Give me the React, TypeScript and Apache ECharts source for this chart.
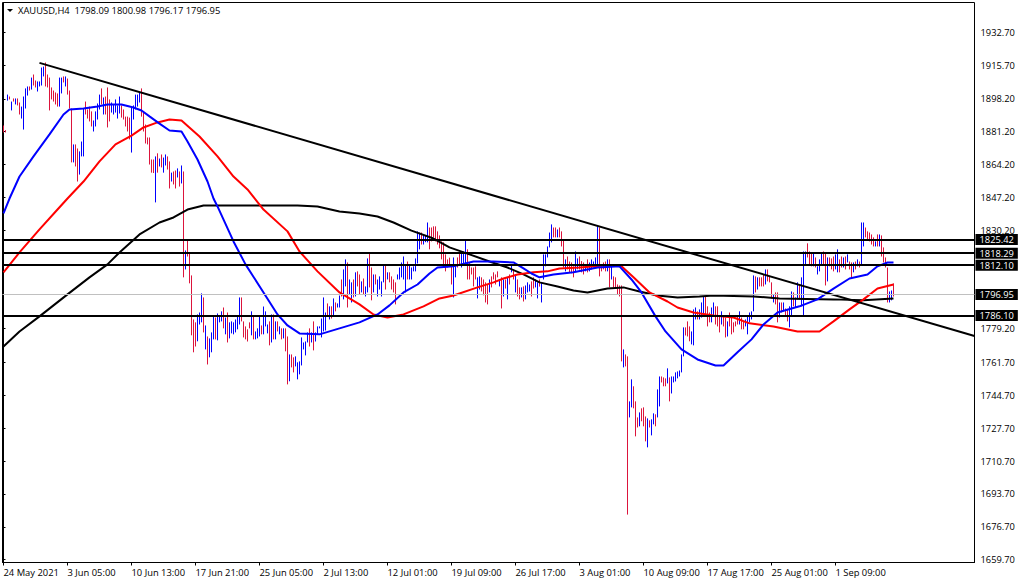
import React, { useEffect, useRef } from 'react';
import * as echarts from 'echarts';

const FONT = '"Open Sans", sans-serif';

const xLabels = ['24 May 2021', '3 Jun 05:00', '10 Jun 13:00', '17 Jun 21:00', '25 Jun 05:00', '2 Jul 13:00', '12 Jul 01:00',
  '19 Jul 09:00', '26 Jul 17:00', '3 Aug 01:00', '10 Aug 09:00', '17 Aug 17:00', '25 Aug 01:00', '1 Sep 09:00'];
const xTicks = [0, 32, 64, 96, 128, 160, 192, 224, 256, 288, 320, 352, 384, 416];
const yTicks = [1932.7, 1915.7, 1898.2, 1881.2, 1864.2, 1847.2, 1830.2, 1779.2, 1761.7, 1744.7, 1727.7, 1710.7, 1693.7, 1676.7, 1659.7];

// high and low of every H4 bar
const highs = [
  1884.4, 1882, 1900.4, 1899.4, 1896.8, 1898.4, 1898.4, 1898.4, 1896.3, 1894.2,
  1899.4, 1903.6, 1904.6, 1904.6, 1909.2, 1910.8, 1907.7, 1907.2, 1907.2, 1914.4,
  1914.9, 1917, 1910.8, 1909.2, 1904.1, 1902.5, 1901.5, 1901, 1909.2, 1909.2,
  1909.8, 1909.8, 1908.7, 1902.5, 1893.2, 1874.6, 1874.6, 1872.5, 1871, 1876.1,
  1893.2, 1896.8, 1892.7, 1894.2, 1891.7, 1887, 1891.7, 1895.8, 1900.4, 1903.6,
  1898.9, 1899.4, 1904.1, 1897.9, 1896.3, 1895.3, 1897.9, 1894.8, 1899.4, 1894.8,
  1892.7, 1889, 1889, 1888.5, 1894.2, 1894.8, 1900.4, 1900.4, 1901.5, 1903.6,
  1891.7, 1884.9, 1878.2, 1878.2, 1866.8, 1866.8, 1868.4, 1870, 1867.3, 1869.4,
  1867.8, 1869.4, 1868.4, 1865.8, 1860, 1860.6, 1861.1, 1862.2, 1860.6, 1863.7,
  1860.6, 1819.7, 1825.4, 1818.7, 1806.8, 1784, 1782.5, 1786.6, 1787.6, 1797.5,
  1795.4, 1780.9, 1775.2, 1774.2, 1777.3, 1786.1, 1785, 1787.1, 1785.6, 1788.2,
  1790.2, 1785, 1787.6, 1782.5, 1783, 1782.5, 1784, 1785.6, 1795.4, 1795.4,
  1783, 1780.4, 1778.9, 1782.5, 1788.2, 1785.6, 1777.8, 1779.4, 1785.6, 1780.9,
  1790.7, 1788.2, 1781.4, 1783, 1786.6, 1786.6, 1783, 1783, 1780.4, 1779.4,
  1779.4, 1779.4, 1775.2, 1765.9, 1765.9, 1764.4, 1764.9, 1761.8, 1762.3, 1774.7,
  1772.1, 1772.6, 1777.3, 1779.4, 1777.3, 1783, 1777.3, 1780.4, 1780.4, 1784.5,
  1795.4, 1787.6, 1792.3, 1790.8, 1790.8, 1794.9, 1792.8, 1792.3, 1796.4, 1804.7,
  1809.9, 1815.1, 1813.5, 1804.7, 1803.2, 1804.7, 1808.4, 1808.9, 1807.3, 1803.7,
  1805.2, 1801.1, 1815.6, 1818.7, 1810.9, 1807.3, 1807.3, 1804.7, 1806.3, 1803.7,
  1812.5, 1812.5, 1808.4, 1808.4, 1806.3, 1804.7, 1803.2, 1807.3, 1810.9, 1813.5,
  1816.6, 1812.5, 1814, 1812.5, 1810.9, 1811.5, 1815.6, 1829.6, 1829, 1829,
  1828, 1827.5, 1834.2, 1831.6, 1831.6, 1832.2, 1832.2, 1829.6, 1827.5, 1824.4,
  1823.9, 1817.7, 1815.1, 1816, 1812.5, 1816.1, 1812.5, 1816.1, 1818.7, 1819.2,
  1819.2, 1825.4, 1820.3, 1813.5, 1810.9, 1810.9, 1811.5, 1805.8, 1806.3, 1805.8,
  1804.7, 1803.2, 1802.1, 1804.7, 1806.3, 1808.4, 1807.3, 1808.9, 1804.7, 1805.8,
  1804.7, 1804.7, 1805.8, 1807.3, 1812.5, 1809.9, 1807.3, 1804.7, 1800.6, 1800.6,
  1801.1, 1801.6, 1803.2, 1802.1, 1803.7, 1805.8, 1804.7, 1803.2, 1804.7, 1803.2,
  1817.7, 1817.7, 1821.8, 1829, 1833.2, 1831.6, 1831.6, 1830.6, 1831.6, 1829.6,
  1825.4, 1815.1, 1816.6, 1814, 1813.5, 1811.5, 1819.2, 1815.6, 1816.6, 1814.2,
  1813.5, 1812.5, 1815.1, 1813.5, 1815.1, 1814, 1816.1, 1832.2, 1831.6, 1812.5,
  1813.5, 1814, 1815.1, 1815.1, 1811.5, 1806.3, 1805.8, 1802.1, 1801.6, 1801.6,
  1768.5, 1765.9, 1764.9, 1741.6, 1753, 1749.4, 1741.6, 1733.3, 1735.9, 1738,
  1738.5, 1733.8, 1732.8, 1731.8, 1732.3, 1735.4, 1734.9, 1747.8, 1754.5, 1754.5,
  1754, 1753.5, 1758.7, 1754, 1754.5, 1754.5, 1756.6, 1757.1, 1757.6, 1765.9,
  1779.9, 1779.9, 1783, 1780.4, 1777.8, 1789.2, 1790.2, 1788.2, 1789.2, 1792.8,
  1795.9, 1795.9, 1790.8, 1787.6, 1790.2, 1792.8, 1790.8, 1790.8, 1785.6, 1788.2,
  1785.6, 1785, 1783, 1787.6, 1785, 1782.5, 1783, 1785.6, 1788.2, 1785,
  1783, 1784, 1785.6, 1787.6, 1788.2, 1806.8, 1806.3, 1805.8, 1805.8, 1805.8,
  1807.3, 1809.9, 1809.9, 1806.3, 1803.2, 1797, 1798, 1798, 1792.8, 1792.8,
  1792.8, 1789.7, 1789.2, 1790.8, 1798.5, 1798, 1795.4, 1803.2, 1801.6, 1805.8,
  1819.2, 1819.2, 1823.4, 1819.2, 1818.7, 1818.7, 1816.1, 1811.5, 1815.1, 1818.7,
  1819.2, 1818.7, 1816.1, 1816.1, 1815.6, 1816.6, 1817.7, 1820.3, 1815.1, 1816.6,
  1816.1, 1816.6, 1817.7, 1814, 1813.5, 1813.5, 1814, 1815.1, 1814, 1834.2,
  1834.2, 1831.6, 1829.6, 1829, 1828, 1826.5, 1824.4, 1828, 1828, 1827.5,
  1821.3, 1816.1, 1810.9, 1798.5, 1799, 1802.7,
];
const lows = [
  1880.8, 1880.8, 1897.3, 1897.9, 1892.2, 1896.8, 1895.3, 1894.8, 1890.1, 1888,
  1882.3, 1893.2, 1899.9, 1902.5, 1903, 1905.1, 1904.1, 1902, 1904.6, 1905.1,
  1909.8, 1904.6, 1904.1, 1892.2, 1897.9, 1896.8, 1895.3, 1894.2, 1894.2, 1901,
  1906.7, 1904.6, 1900.4, 1893.2, 1865.3, 1865.3, 1863.2, 1855.4, 1859, 1868.4,
  1868.4, 1890.1, 1888, 1886.5, 1883.9, 1881.3, 1883.9, 1887.5, 1892.7, 1895.3,
  1890.1, 1890.1, 1883.4, 1886.5, 1891.1, 1890.1, 1891.1, 1888, 1890.6, 1888.5,
  1887.5, 1883.9, 1881.3, 1877.2, 1870.4, 1887.5, 1892.7, 1894.2, 1896.3, 1889,
  1881.3, 1875.1, 1874.6, 1864.2, 1860, 1859.8, 1844.6, 1860, 1863.2, 1862.7,
  1860, 1863.7, 1861.6, 1851.8, 1855.4, 1853.9, 1851.8, 1857.5, 1852.8, 1854.4,
  1805.8, 1809.9, 1816.6, 1802.7, 1775.8, 1767, 1770, 1772.7, 1781.4, 1782.5,
  1777.3, 1768.5, 1760.7, 1764.4, 1767, 1773.7, 1773.7, 1773.2, 1782.5, 1783,
  1779.4, 1776.3, 1772.1, 1774.2, 1776.8, 1776.3, 1777.3, 1778.9, 1781.4, 1783,
  1774.7, 1773.7, 1772.6, 1779.4, 1775.8, 1773.7, 1773.7, 1774.2, 1775.2, 1776.3,
  1776.3, 1780.4, 1776.8, 1770.6, 1772.1, 1773.7, 1773.7, 1777.8, 1776.3, 1773.7,
  1774.2, 1767.5, 1750.4, 1752, 1759.2, 1756.6, 1759.7, 1753, 1755.6, 1760.2,
  1768.5, 1765.4, 1772.1, 1770, 1772.1, 1768, 1772.6, 1776.3, 1779.4, 1774.7,
  1777.8, 1778.3, 1786.1, 1784, 1784.5, 1785.6, 1788.2, 1790.2, 1790.2, 1795.9,
  1794.4, 1801.1, 1790.2, 1797, 1792.8, 1795.4, 1795.9, 1801.1, 1797, 1798,
  1797, 1795.9, 1798, 1800.6, 1793.9, 1798, 1802.1, 1795.9, 1799.5, 1795.9,
  1803.2, 1799.5, 1804.7, 1803.2, 1799.5, 1798, 1791.8, 1804.7, 1804.7, 1805.8,
  1804.7, 1798, 1804.7, 1804.7, 1804.7, 1808.9, 1808.9, 1813, 1820.3, 1822.8,
  1822.8, 1824, 1823.9, 1820.3, 1824.4, 1826.5, 1824.4, 1822.8, 1820.8, 1815.1,
  1810.9, 1808.9, 1810.9, 1812, 1802.1, 1795.4, 1805.8, 1810.9, 1812.5, 1810.9,
  1812.5, 1812.5, 1804.7, 1804.7, 1807.3, 1801.1, 1804.7, 1794.9, 1799.5, 1798.5,
  1796.5, 1792.8, 1791.8, 1798, 1800.6, 1804.7, 1802.1, 1805.8, 1801.1, 1789.7,
  1795.9, 1800, 1794.4, 1802.1, 1808.4, 1804.7, 1798, 1795.9, 1794.4, 1795.4,
  1793.3, 1794.4, 1798, 1798.5, 1795.9, 1800, 1800.6, 1794.9, 1801, 1792.8,
  1804.7, 1811.5, 1816.1, 1821.3, 1823.9, 1826.5, 1826.5, 1826.5, 1826.5, 1821.8,
  1810.9, 1808.9, 1809.9, 1808.4, 1807.9, 1805.8, 1808.9, 1810, 1809.9, 1808.4,
  1807.3, 1808.9, 1808.4, 1808.9, 1809.9, 1810.9, 1810.9, 1810.9, 1806.3, 1808.9,
  1809.9, 1808.9, 1808.9, 1800.6, 1804.7, 1800.6, 1800.6, 1797, 1795.9, 1762.3,
  1759.2, 1759.7, 1683, 1733.3, 1738.5, 1738, 1723.5, 1728.1, 1728.7, 1731.3,
  1728.7, 1720.9, 1717.8, 1728.1, 1724, 1729.7, 1728.7, 1733.3, 1739, 1751.4,
  1749.4, 1749.4, 1750.9, 1741.6, 1745.7, 1751.4, 1751.9, 1753.5, 1754.5, 1756.6,
  1764.9, 1775.7, 1775.2, 1772.7, 1771.1, 1770.6, 1784, 1784, 1784, 1785,
  1786.6, 1786.1, 1780.4, 1782.5, 1782.5, 1785.6, 1781.4, 1780.4, 1777.3, 1781.4,
  1780.4, 1774.7, 1775.2, 1780.4, 1776.3, 1777.3, 1780.4, 1781.4, 1781.4, 1778.9,
  1778.9, 1780.4, 1776.3, 1782.5, 1784, 1788.2, 1798, 1799.5, 1801.1, 1801.1,
  1801.1, 1802.1, 1803.7, 1803.2, 1794.9, 1792.8, 1791.8, 1782.5, 1785, 1787.6,
  1788.2, 1785.6, 1783, 1779.9, 1785.6, 1790.8, 1790.2, 1794.4, 1794.4, 1790.8,
  1785.6, 1812.5, 1816.1, 1812.5, 1811.5, 1811.5, 1810.9, 1807.3, 1808.9, 1812.5,
  1812.5, 1801.6, 1803.7, 1811.5, 1809.9, 1808.9, 1809.9, 1808.4, 1808.4, 1810.9,
  1810.9, 1809.9, 1813.5, 1809.9, 1805.8, 1808.4, 1809.9, 1811.5, 1810.9, 1812.5,
  1821.8, 1826.5, 1825.4, 1824.4, 1822.8, 1821.8, 1821.8, 1821.8, 1821.8, 1816.6,
  1813.5, 1810.9, 1792.8, 1792.8, 1793.9, 1795.9,
];
// u = blue bar, d = crimson bar, ten bars per entry
const barDirs = [
  'ddudududdu', 'uuududduuu', 'uddddddduu', 'dudddudduu', 'udddduuuud',
  'uddduuuuud', 'dddduuuuud', 'ddddddudud', 'uudduddudu', 'duddddduuu',
  'duduuuduuu', 'duduuuuuud', 'dddduduuud', 'uuudududud', 'uddudduuuu',
  'uuududuuuu', 'uudududuud', 'uuduududdu', 'duudduduuu', 'ududddduuu',
  'uuduuuuuud', 'uuuddddddd', 'ddddduuddu', 'uuddddduud', 'ddduddddud',
  'ududududdu', 'duuudduudu', 'uuuuuddudd', 'dudddduudd', 'duduuuuudd',
  'ddududdddd', 'udduudddud', 'dduduuduud', 'dduduuuuuu', 'uddduuuduu',
  'uddduudddu', 'ddudddddud', 'duuuuududd', 'duddduddud', 'udduuduudu',
  'uuddduduuu', 'dduddduudd', 'ududdududu', 'udddddudud', 'ddduud',
].join('');

// moving averages as [bar index, price] knots
const blueMa = [
  [0, 1838.9], [3, 1846.6], [8, 1858], [15, 1868.4], [23, 1879.8], [30, 1890.1], [33, 1892.7], [40, 1893.2], [47, 1894.2],
  [52, 1895.3], [59, 1895.3], [65, 1893.7], [69, 1892.2], [73, 1889.1], [78, 1885.4], [83, 1881.8], [89, 1881.3], [92, 1876.1],
  [97, 1866.8], [102, 1855.4], [105, 1846.6], [107, 1842.5], [115, 1824.4], [121, 1812.5], [130, 1798], [137, 1786.6],
  [142, 1780.9], [148, 1776.8], [158, 1776.3], [168, 1779.4], [178, 1782.5], [187, 1786.6], [193, 1791.3], [200, 1798],
  [207, 1802.1], [213, 1807.8], [217, 1810.9], [225, 1811.5], [235, 1814], [245, 1814], [255, 1813.5], [260, 1810.4],
  [264, 1807.8], [268, 1805.8], [275, 1807.3], [285, 1808.4], [297, 1810.9], [308, 1811.5], [314, 1804.7], [319, 1798],
  [326, 1785.6], [331, 1777.8], [339, 1768.5], [347, 1763.3], [356, 1760.2], [360, 1760.2], [367, 1767], [374, 1773.7],
  [380, 1781.4], [387, 1787.6], [398, 1790.8], [407, 1794.4], [415, 1800], [423, 1805.2], [432, 1807.3], [437, 1811.5],
  [442, 1813.5], [445, 1813.5],
];
const redMa = [
  [0, 1808.4], [8, 1818.7], [18, 1830.6], [27, 1840.9], [32, 1846.6], [40, 1855.4], [48, 1865.8], [56, 1874.6], [64, 1879.2],
  [70, 1883.4], [77, 1886], [83, 1887.5], [89, 1887], [98, 1878.7], [107, 1868.4], [115, 1858], [122, 1851.3], [130, 1840.9],
  [142, 1829.6], [148, 1819.2], [157, 1808.9], [168, 1798], [178, 1791.8], [185, 1786.6], [192, 1785], [200, 1786.6],
  [210, 1790.8], [218, 1794.9], [225, 1796.4], [237, 1800.6], [245, 1803.2], [250, 1805.2], [257, 1807.3], [265, 1808.4],
  [272, 1808.9], [278, 1810.4], [288, 1810.9], [302, 1812], [309, 1811.5], [315, 1805.8], [323, 1798], [332, 1793.3],
  [337, 1790.2], [345, 1787.6], [355, 1786.1], [365, 1785], [373, 1782], [385, 1780.4], [397, 1777.8], [408, 1777.8],
  [415, 1783], [423, 1789.2], [430, 1794.4], [437, 1800], [445, 1802.1],
];
const blackMa = [
  [0, 1770], [8, 1777.8], [18, 1785.6], [32, 1797], [43, 1805.8], [52, 1812.5], [58, 1818.7], [68, 1828], [78, 1834.2],
  [85, 1836.8], [92, 1840.9], [100, 1843], [115, 1843], [147, 1843], [157, 1842.5], [168, 1839.9], [178, 1838.9], [187, 1837.3],
  [195, 1834.2], [204, 1830], [215, 1825.9], [223, 1821.3], [233, 1817.7], [243, 1814], [252, 1810.9], [260, 1807.3],
  [268, 1803.2], [277, 1801.1], [285, 1799], [292, 1798], [302, 1800], [310, 1800.6], [318, 1798.5], [327, 1796.4],
  [337, 1795.4], [348, 1795.9], [355, 1796.4], [375, 1795.9], [388, 1794.9], [415, 1794.4], [430, 1793.9], [445, 1794.9],
];
const trendLine = [[18, 1916.8], [485.5, 1775.4]];
const levels = [1825.42, 1818.29, 1812.1, 1786.1];
const bid = 1796.95;

const headerText = 'XAUUSD,H4  1798.09 1800.98 1796.17 1796.95';

const priceLabel = {
  show: true,
  position: 'end',
  distance: 1,
  formatter: (p: any) => Number(p.value).toFixed(2),
  color: '#fff',
  backgroundColor: '#000',
  fontFamily: FONT,
  fontSize: 9.3,
  lineHeight: 10,
  padding: [1, 4, 0, 4],
};

const App: React.FC = () => {
  const chartRef = useRef<HTMLDivElement>(null);

  useEffect(() => {
    if (!chartRef.current) return;
    const myChart = echarts.init(chartRef.current, null, { renderer: 'svg' });
    const maLine = (data: number[][], color: string) => ({
      type: 'line',
      data,
      symbol: 'none',
      silent: true,
      clip: true,
      lineStyle: { color, width: 2 },
    });
    const option = {
      animation: false,
      backgroundColor: '#fff',
      title: {
        text: headerText,
        left: 18,
        top: 6,
        padding: 0,
        textStyle: { fontFamily: FONT, fontSize: 9.4, fontWeight: 'normal', color: '#000' },
      },
      graphic: [{ type: 'polygon', shape: { points: [[7, 9], [13, 9], [10, 12]] }, style: { fill: '#000' } }],
      grid: { left: 2.5, top: 2.5, width: 972, height: 560, show: true, borderColor: '#000', borderWidth: 1, backgroundColor: 'transparent' },
      xAxis: {
        type: 'value',
        min: -0.5,
        max: 485.5,
        splitLine: { show: false },
        axisLine: { show: true, lineStyle: { color: '#000' } },
        axisTick: { show: true, length: 3, customValues: xTicks, lineStyle: { color: '#000' } },
        axisLabel: {
          customValues: xTicks,
          formatter: (v: number) => xLabels[xTicks.indexOf(v)] ?? '',
          align: 'left',
          margin: 5,
          color: '#000',
          fontFamily: FONT,
          fontSize: 9.4,
        },
      },
      yAxis: {
        type: 'value',
        position: 'right',
        min: 1658.2,
        max: 1948.07,
        splitLine: { show: false },
        axisLine: { show: true, lineStyle: { color: '#000' } },
        axisTick: { show: true, length: 2, customValues: yTicks, lineStyle: { color: '#000' } },
        axisLabel: {
          customValues: yTicks,
          formatter: (v: number) => v.toFixed(2),
          margin: 6,
          color: '#000',
          fontFamily: FONT,
          fontSize: 9.3,
        },
      },
      series: [
        {
          type: 'custom',
          silent: true,
          clip: true,
          encode: { x: 0, y: [1, 2] },
          data: highs.map((h, i) => [i, lows[i], h]),
          renderItem: (_: any, api: any) => {
            const i = api.value(0);
            const a = api.coord([i, api.value(1)]);
            const b = api.coord([i, api.value(2)]);
            return {
              type: 'line',
              shape: { x1: a[0], y1: a[1], x2: b[0], y2: b[1] },
              style: { stroke: barDirs[i] === 'u' ? '#0000ff' : '#dc143c', lineWidth: 1, fill: null },
            };
          },
        },
        {
          type: 'line',
          data: [],
          silent: true,
          markLine: {
            silent: true,
            animation: false,
            symbol: ['none', 'none'],
            data: [{ yAxis: bid, lineStyle: { color: '#c0c0c0', width: 1, type: 'solid' }, label: priceLabel }],
          },
        },
        maLine(blackMa, '#000'),
        maLine(redMa, '#ff0000'),
        maLine(blueMa, '#0000ff'),
        maLine(trendLine, '#000'),
        {
          type: 'line',
          data: [],
          silent: true,
          markLine: {
            silent: true,
            animation: false,
            symbol: ['none', 'none'],
            data: levels.map((v) => ({ yAxis: v, lineStyle: { color: '#000', width: 2, type: 'solid' }, label: priceLabel })),
          },
        },
      ],
    };
    myChart.setOption(option as any);
    return () => { myChart.dispose(); };
  }, []);

  return <div ref={chartRef} style={{ position: 'absolute', left: 0, top: 0, width: 1020, height: 584 }} />;
};

export default App;
